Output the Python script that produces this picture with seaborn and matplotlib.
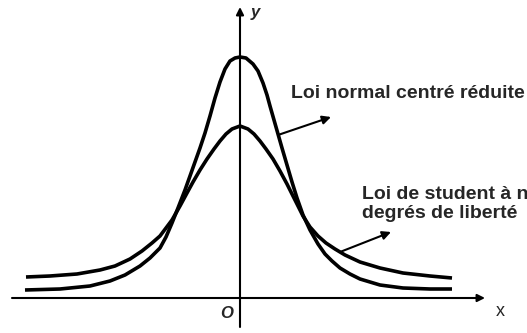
import matplotlib
matplotlib.use("Agg")
import matplotlib.pyplot as plt
import seaborn as sns
import pandas as pd

sns.set_style("white")
plt.rcParams["font.family"] = ["Liberation Sans", "DejaVu Sans"]

# Standard normal density (tall curve), sampled along the x axis
normal_x = [-215, -180, -150, -130, -115, -100, -90, -80, -74, -68, -62, -55,
            -50, -45, -40, -35, -30, -25, -20, -15, -10, -5, 0,
            6, 13, 18, 23, 27, 30, 34, 38, 42, 47, 52, 57, 63, 70, 78, 85,
            92, 100, 110, 120, 140, 163, 190, 212]
normal_y = [8, 9, 12, 17, 23, 32, 40, 50, 61, 75, 90, 108,
            122, 136, 150, 165, 182, 200, 216, 229, 237, 240, 241,
            240, 234, 227, 215, 203, 192, 178, 164, 150, 133, 116, 100, 83, 68, 54, 44,
            37, 30, 24, 19, 13, 10, 9, 9]

# Student density with n degrees of freedom (flatter curve, heavier tails)
student_x = [-214, -190, -163, -140, -125, -110, -98, -88, -80, -74, -68, -60,
             -53, -47, -40, -33, -26, -20, -14, -8, 0,
             8, 14, 20, 26, 33, 40, 47, 53, 58, 63, 70, 78, 86, 95, 105,
             120, 140, 163, 190, 212]
student_y = [21, 22, 24, 28, 32, 39, 47, 55, 62, 70, 78, 92,
             105, 116, 128, 139, 149, 157, 164, 169, 172,
             169, 164, 157, 149, 139, 127, 114, 102, 92, 82, 71, 62, 55, 49, 43,
             36, 30, 25, 22, 20]

label_normal = "Loi normal centré réduite"
label_student = "Loi de student à n\ndegrés de liberté"

fig = plt.figure(figsize=(5.27, 3.33), dpi=100)
ax = fig.add_axes([0, 0, 1, 1])
ax.set_xlim(-240, 287)
ax.set_ylim(-35, 298)
ax.axis("off")

normal_df = pd.DataFrame({"x": normal_x, "y": normal_y})
student_df = pd.DataFrame({"x": student_x, "y": student_y})
for df in (normal_df, student_df):
    sns.lineplot(data=df, x="x", y="y", sort=False, estimator=None,
                 color="black", lw=2.6, ax=ax, solid_joinstyle="round",
                 solid_capstyle="butt")

# Coordinate axes with arrow heads
axis_arrow = dict(arrowstyle="-|>", lw=1.5, color="black",
                  mutation_scale=11, shrinkA=0, shrinkB=0)
ax.annotate("", xy=(245, 0), xytext=(-228, 0), arrowprops=axis_arrow)
ax.annotate("", xy=(0, 291), xytext=(0, -29), arrowprops=axis_arrow)

ax.text(15, 285, "y", fontsize=12, fontstyle="italic", fontweight="bold",
        ha="center", va="center")
ax.text(260, -14, "x", fontsize=13, ha="center", va="center")
ax.text(-13, -16, "O", fontsize=12, fontstyle="italic", fontweight="bold",
        ha="center", va="center")

# Curve labels with pointer arrows
pointer = dict(arrowstyle="-|>,head_length=0.5,head_width=0.25", lw=1.5,
               color="black", mutation_scale=10, shrinkA=0, shrinkB=0)
ax.annotate("", xy=(91, 181), xytext=(38, 163), arrowprops=pointer)
ax.annotate("", xy=(151, 66), xytext=(100, 46), arrowprops=pointer)

ax.text(51, 205, label_normal, fontsize=14, fontweight="bold",
        ha="left", va="center")
ax.text(122, 94, label_student, fontsize=14, fontweight="bold",
        ha="left", va="center", linespacing=1.1)

fig.savefig("out.png", dpi=100)
